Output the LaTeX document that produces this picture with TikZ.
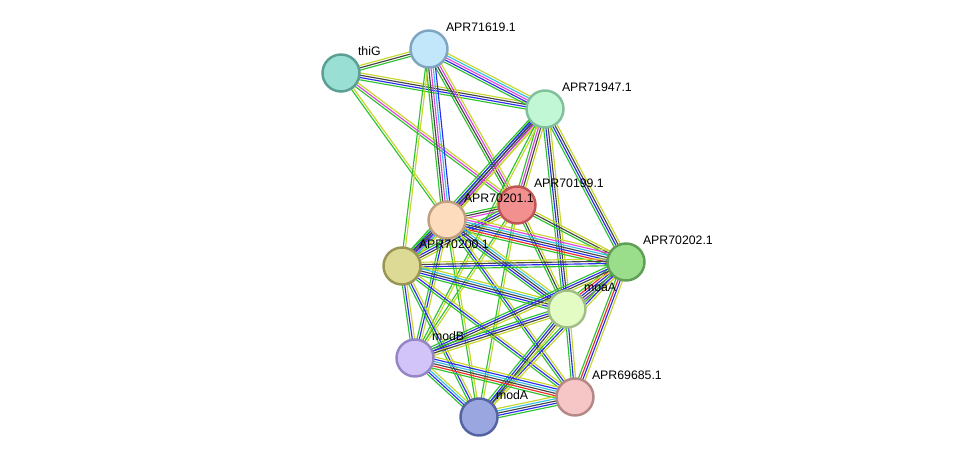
\documentclass[tikz,border=0pt]{standalone}
\usepackage{fontspec}
\setmainfont{Liberation Sans}
\usetikzlibrary{calc, backgrounds}
% evidence colours
\definecolor{evGreen}{HTML}{2EC22E}
\definecolor{evBlue}{HTML}{2B2BF0}
\definecolor{evBlack}{HTML}{444444}
\definecolor{evMagenta}{HTML}{E043E0}
\definecolor{evCyan}{HTML}{33BFE6}
\definecolor{evYellow}{HTML}{C6D62A}
\definecolor{evRed}{HTML}{F02A2A}
\definecolor{evPurple}{HTML}{8A2BD0}
% protein colours
\definecolor{thiGFill}{HTML}{9ADFD4}\definecolor{thiGLine}{HTML}{5A9E94}
\definecolor{pBlueFill}{HTML}{C2E6FA}\definecolor{pBlueLine}{HTML}{7FA6C0}
\definecolor{pMintFill}{HTML}{C2F7D6}\definecolor{pMintLine}{HTML}{80C09A}
\definecolor{pRedFill}{HTML}{F29090}\definecolor{pRedLine}{HTML}{C05555}
\definecolor{pPeachFill}{HTML}{FDDCBE}\definecolor{pPeachLine}{HTML}{C0A080}
\definecolor{pOliveFill}{HTML}{DDDA95}\definecolor{pOliveLine}{HTML}{9A9555}
\definecolor{pGreenFill}{HTML}{9ADE8C}\definecolor{pGreenLine}{HTML}{5E9E55}
\definecolor{pLimeFill}{HTML}{E2FCC4}\definecolor{pLimeLine}{HTML}{A0BE85}
\definecolor{pLilacFill}{HTML}{D2C4F8}\definecolor{pLilacLine}{HTML}{9585C5}
\definecolor{pNavyFill}{HTML}{9AA6E0}\definecolor{pNavyLine}{HTML}{5563A3}
\definecolor{pPinkFill}{HTML}{F6C6C6}\definecolor{pPinkLine}{HTML}{B58888}

% one link = a bundle of thin parallel lines
\newcommand{\evlink}[3]{%
  \foreach \c [count=\k] in {#3}{\xdef\nlines{\k}}%
  \foreach \c [count=\k] in {#3}{%
    \pgfmathsetmacro\off{(\k-(\nlines+1)/2)*1.3}%
    \draw[\c, line width=0.65pt]
      ($(#1)!\off pt!90:(#2)$) -- ($(#2)!\off pt!-90:(#1)$);
  }%
}

\begin{document}
\begin{tikzpicture}[x=0.02cm, y=-0.02cm, font=\fontsize{7}{8}\selectfont,
  prot/.style={circle, line width=1.4pt, minimum size=0.74cm, inner sep=0pt},
  lbl/.style={inner sep=0.5pt, label distance=1.5pt}]

\useasboundingbox (0,0) rectangle (975,463);

\node[prot, fill=thiGFill, draw=thiGLine,
  label={[lbl]45:thiG}] (thiG) at (341,73) {};
\node[prot, fill=pBlueFill, draw=pBlueLine,
  label={[lbl]45:APR71619.1}] (a71619) at (429,49) {};
\node[prot, fill=pMintFill, draw=pMintLine,
  label={[lbl]45:APR71947.1}] (a71947) at (545,109) {};
\node[prot, fill=pRedFill, draw=pRedLine,
  label={[lbl]45:APR70199.1}] (a70199) at (517,205) {};
\node[prot, fill=pPeachFill, draw=pPeachLine,
  label={[lbl]45:APR70201.1}] (a70201) at (447,220) {};
\node[prot, fill=pOliveFill, draw=pOliveLine,
  label={[lbl]45:APR70200.1}] (a70200) at (402,266) {};
\node[prot, fill=pGreenFill, draw=pGreenLine,
  label={[lbl]45:APR70202.1}] (a70202) at (626,262) {};
\node[prot, fill=pLimeFill, draw=pLimeLine,
  label={[lbl]45:moaA}] (moaA) at (567,309) {};
\node[prot, fill=pLilacFill, draw=pLilacLine,
  label={[lbl]45:modB}] (modB) at (415,358) {};
\node[prot, fill=pNavyFill, draw=pNavyLine,
  label={[lbl]45:modA}] (modA) at (479,417) {};
\node[prot, fill=pPinkFill, draw=pPinkLine,
  label={[lbl]45:APR69685.1}] (a69685) at (575,397) {};

\begin{scope}[on background layer]
\evlink{thiG}{a71619}{evGreen,evBlack,evYellow}
\evlink{thiG}{a71947}{evGreen,evBlue,evBlack,evYellow}
\evlink{thiG}{a70199}{evGreen,evMagenta,evYellow}
\evlink{thiG}{a70201}{evGreen,evYellow}
\evlink{a71619}{a71947}{evGreen,evBlue,evMagenta,evCyan,evYellow}
\evlink{a71619}{a70199}{evGreen,evBlack,evMagenta,evYellow}
\evlink{a71619}{a70201}{evGreen,evBlack,evMagenta,evCyan,evBlue}
\evlink{a71619}{a70200}{evGreen,evYellow}
\evlink{a71947}{a70199}{evGreen,evMagenta,evBlack,evYellow}
\evlink{a71947}{a70201}{evGreen,evBlue,evBlack,evYellow}
\evlink{a71947}{a70200}{evGreen,evBlue,evBlack,evMagenta,evYellow}
\evlink{a71947}{a70202}{evGreen,evBlue,evBlack,evYellow}
\evlink{a71947}{moaA}{evGreen,evBlue,evBlack,evYellow}
\evlink{a71947}{modB}{evGreen,evYellow}
\evlink{a70199}{a70201}{evGreen,evBlack,evMagenta}
\evlink{a70199}{a70200}{evGreen,evBlue,evBlack,evYellow}
\evlink{a70199}{a70202}{evGreen,evBlack,evYellow}
\evlink{a70199}{moaA}{evGreen,evBlack,evYellow}
\evlink{a70199}{modB}{evGreen,evYellow}
\evlink{a70199}{modA}{evGreen,evYellow}
\evlink{a70201}{a70202}{evGreen,evRed,evBlue,evBlack,evCyan,evMagenta,evYellow}
\evlink{a70201}{moaA}{evGreen,evBlue,evBlack,evCyan,evYellow}
\evlink{a70201}{a70200}{evGreen,evBlack,evBlue,evCyan,evYellow}
\evlink{a70201}{modB}{evGreen,evBlue,evYellow}
\evlink{a70201}{modA}{evGreen,evYellow}
\evlink{a70201}{a69685}{evGreen,evBlue,evYellow}
\evlink{a70200}{a70202}{evGreen,evBlue,evBlack,evYellow}
\evlink{a70200}{moaA}{evGreen,evBlue,evBlack,evCyan,evYellow}
\evlink{a70200}{modB}{evGreen,evBlue,evYellow}
\evlink{a70200}{modA}{evGreen,evBlue,evYellow}
\evlink{a70200}{a69685}{evGreen,evBlue,evYellow}
\evlink{a70202}{moaA}{evGreen,evRed,evBlue,evBlack,evPurple,evYellow}
\evlink{a70202}{modB}{evGreen,evBlue,evBlack,evYellow}
\evlink{a70202}{a69685}{evGreen,evRed,evBlue,evYellow}
\evlink{a70202}{modA}{evGreen,evBlue,evYellow}
\evlink{moaA}{modB}{evGreen,evBlue,evBlack,evYellow}
\evlink{moaA}{modA}{evGreen,evBlue,evBlack,evYellow}
\evlink{moaA}{a69685}{evGreen,evBlue,evYellow}
\evlink{modB}{modA}{evGreen,evBlue,evCyan,evYellow}
\evlink{modB}{a69685}{evGreen,evRed,evBlack,evCyan,evBlue,evYellow}
\evlink{modA}{a69685}{evGreen,evBlue,evBlack,evCyan,evYellow}
\end{scope}

\end{tikzpicture}
\end{document}
